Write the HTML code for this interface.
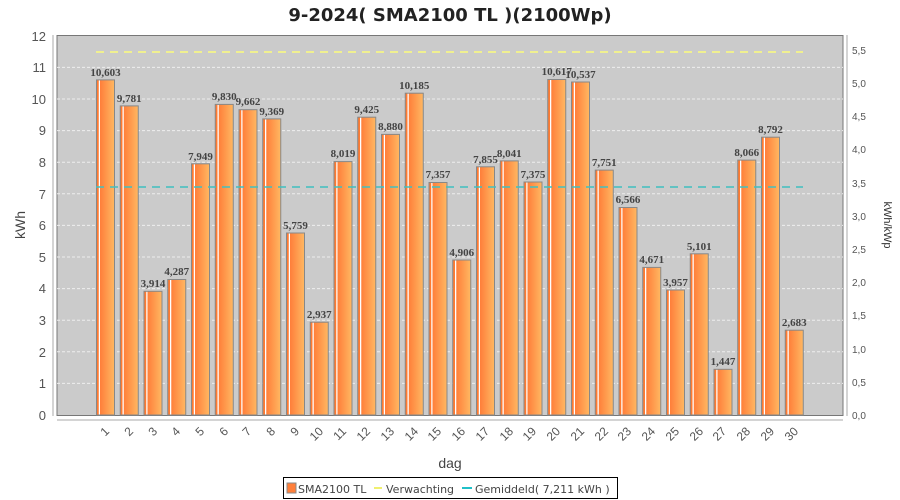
<!DOCTYPE html>
<html><head><meta charset="utf-8"><style>body{margin:0;background:#fff}svg{display:block}</style></head><body>
<svg width="900" height="500" xmlns="http://www.w3.org/2000/svg" font-family="Liberation Sans, sans-serif">
<defs>
<linearGradient id="g" x1="0" x2="1" y1="0" y2="0">
<stop offset="0" stop-color="#ff7a30"/><stop offset="0.12" stop-color="#ff7a30"/><stop offset="0.13" stop-color="#fff"/><stop offset="0.19" stop-color="#fff"/><stop offset="0.2" stop-color="#ff7f3a"/><stop offset="1" stop-color="#ffb862"/>
</linearGradient>
</defs>
<text x="450" y="21" text-anchor="middle" font-family="DejaVu Sans, sans-serif" font-size="18" font-weight="bold" fill="#222">9-2024( SMA2100 TL )(2100Wp)</text>
<rect x="57" y="35.5" width="786" height="380" fill="#cbcbcb" stroke="#777"/>
<g stroke="#eee" stroke-dasharray="3,2" stroke-width="1">
<line x1="57" x2="843" y1="383.4" y2="383.4"/><line x1="57" x2="843" y1="351.8" y2="351.8"/><line x1="57" x2="843" y1="320.2" y2="320.2"/><line x1="57" x2="843" y1="288.6" y2="288.6"/><line x1="57" x2="843" y1="257" y2="257"/><line x1="57" x2="843" y1="225.4" y2="225.4"/><line x1="57" x2="843" y1="193.8" y2="193.8"/><line x1="57" x2="843" y1="162.2" y2="162.2"/><line x1="57" x2="843" y1="130.6" y2="130.6"/><line x1="57" x2="843" y1="99" y2="99"/><line x1="57" x2="843" y1="67.4" y2="67.4"/>
</g>
<g fill="#555" font-size="13" text-anchor="end">
<text x="46" y="420">0</text><text x="46" y="388">1</text><text x="46" y="357">2</text><text x="46" y="325">3</text><text x="46" y="293">4</text><text x="46" y="262">5</text><text x="46" y="230">6</text><text x="46" y="199">7</text><text x="46" y="167">8</text><text x="46" y="135">9</text><text x="46" y="104">10</text><text x="46" y="72">11</text><text x="46" y="41">12</text>
</g>
<line x1="53" x2="53" y1="35" y2="416" stroke="#aaa"/>
<text transform="translate(25,225) rotate(-90)" text-anchor="middle" font-size="14" fill="#444">kWh</text>
<line x1="847" x2="847" y1="35" y2="416" stroke="#aaa"/>
<g fill="#555" font-size="10">
<text x="852" y="419">0,0</text><text x="852" y="386">0,5</text><text x="852" y="353">1,0</text><text x="852" y="319">1,5</text><text x="852" y="286">2,0</text><text x="852" y="253">2,5</text><text x="852" y="220">3,0</text><text x="852" y="187">3,5</text><text x="852" y="153">4,0</text><text x="852" y="120">4,5</text><text x="852" y="87">5,0</text><text x="852" y="54">5,5</text>
</g>
<text transform="translate(884,225) rotate(90)" text-anchor="middle" font-size="11" fill="#333">kWh/kWp</text>
<line x1="57" x2="843" y1="420" y2="420" stroke="#aaa"/>
<g fill="url(#g)" stroke="#888">
<rect x="96.5" y="79.9" width="18" height="335.1"/><rect x="120.25" y="105.9" width="18" height="309.1"/><rect x="144" y="291.3" width="18" height="123.7"/><rect x="167.75" y="279.5" width="18" height="135.5"/><rect x="191.5" y="163.8" width="18" height="251.2"/><rect x="215.25" y="104.4" width="18" height="310.6"/><rect x="239" y="109.7" width="18" height="305.3"/><rect x="262.75" y="118.9" width="18" height="296.1"/><rect x="286.5" y="233" width="18" height="182"/><rect x="310.25" y="322.2" width="18" height="92.8"/><rect x="334" y="161.6" width="18" height="253.4"/><rect x="357.75" y="117.2" width="18" height="297.8"/><rect x="381.5" y="134.4" width="18" height="280.6"/><rect x="405.25" y="93.2" width="18" height="321.8"/><rect x="429" y="182.5" width="18" height="232.5"/><rect x="452.75" y="260" width="18" height="155"/><rect x="476.5" y="166.8" width="18" height="248.2"/><rect x="500.25" y="160.9" width="18" height="254.1"/><rect x="524" y="182" width="18" height="233"/><rect x="547.75" y="79.5" width="18" height="335.5"/><rect x="571.5" y="82" width="18" height="333"/><rect x="595.25" y="170.1" width="18" height="244.9"/><rect x="619" y="207.5" width="18" height="207.5"/><rect x="642.75" y="267.4" width="18" height="147.6"/><rect x="666.5" y="290" width="18" height="125"/><rect x="690.25" y="253.8" width="18" height="161.2"/><rect x="714" y="369.3" width="18" height="45.7"/><rect x="737.75" y="160.1" width="18" height="254.9"/><rect x="761.5" y="137.2" width="18" height="277.8"/><rect x="785.25" y="330.2" width="18" height="84.8"/>
</g>
<line x1="96" x2="803" y1="52" y2="52" stroke="#f0f090" stroke-width="2" stroke-dasharray="8,6"/>
<line x1="96" x2="803" y1="187" y2="187" stroke="#40c0c0" stroke-width="1.5" stroke-dasharray="8,6"/>
<g font-family="Liberation Serif, serif" font-weight="bold" font-size="11" fill="#444" text-anchor="middle">
<text x="105.5" y="76">10,603</text><text x="129.25" y="102">9,781</text><text x="153" y="287">3,914</text><text x="176.75" y="275">4,287</text><text x="200.5" y="160">7,949</text><text x="224.25" y="100">9,830</text><text x="248" y="105">9,662</text><text x="271.75" y="115">9,369</text><text x="295.5" y="229">5,759</text><text x="319.25" y="318">2,937</text><text x="343" y="157">8,019</text><text x="366.75" y="113">9,425</text><text x="390.5" y="130">8,880</text><text x="414.25" y="89">10,185</text><text x="438" y="178">7,357</text><text x="461.75" y="256">4,906</text><text x="485.5" y="163">7,855</text><text x="509.25" y="157">8,041</text><text x="533" y="178">7,375</text><text x="556.75" y="75">10,617</text><text x="580.5" y="78">10,537</text><text x="604.25" y="166">7,751</text><text x="628" y="203">6,566</text><text x="651.75" y="263">4,671</text><text x="675.5" y="286">3,957</text><text x="699.25" y="250">5,101</text><text x="723" y="365">1,447</text><text x="746.75" y="156">8,066</text><text x="770.5" y="133">8,792</text><text x="794.25" y="326">2,683</text>
</g>
<g fill="#555" font-size="12" text-anchor="end">
<text transform="translate(110,432) rotate(-45)">1</text><text transform="translate(134,432) rotate(-45)">2</text><text transform="translate(158,432) rotate(-45)">3</text><text transform="translate(181,432) rotate(-45)">4</text><text transform="translate(205,432) rotate(-45)">5</text><text transform="translate(229,432) rotate(-45)">6</text><text transform="translate(252,432) rotate(-45)">7</text><text transform="translate(276,432) rotate(-45)">8</text><text transform="translate(300,432) rotate(-45)">9</text><text transform="translate(324,432) rotate(-45)">10</text><text transform="translate(347,432) rotate(-45)">11</text><text transform="translate(371,432) rotate(-45)">12</text><text transform="translate(395,432) rotate(-45)">13</text><text transform="translate(419,432) rotate(-45)">14</text><text transform="translate(442,432) rotate(-45)">15</text><text transform="translate(466,432) rotate(-45)">16</text><text transform="translate(490,432) rotate(-45)">17</text><text transform="translate(514,432) rotate(-45)">18</text><text transform="translate(537,432) rotate(-45)">19</text><text transform="translate(561,432) rotate(-45)">20</text><text transform="translate(585,432) rotate(-45)">21</text><text transform="translate(609,432) rotate(-45)">22</text><text transform="translate(632,432) rotate(-45)">23</text><text transform="translate(656,432) rotate(-45)">24</text><text transform="translate(680,432) rotate(-45)">25</text><text transform="translate(704,432) rotate(-45)">26</text><text transform="translate(727,432) rotate(-45)">27</text><text transform="translate(751,432) rotate(-45)">28</text><text transform="translate(775,432) rotate(-45)">29</text><text transform="translate(799,432) rotate(-45)">30</text>
</g>
<text x="450" y="468" text-anchor="middle" font-size="14" fill="#444">dag</text>
<rect x="283.5" y="477.5" width="334" height="21" fill="#fff" stroke="#000"/>
<rect x="287" y="483" width="9" height="10" fill="#ff7f3a" stroke="#888"/>
<g font-family="DejaVu Sans, sans-serif" font-size="11" fill="#444">
<text x="298" y="493">SMA2100 TL</text>
<text x="386" y="493">Verwachting</text>
<text x="475" y="493">Gemiddeld( 7,211 kWh )</text>
</g>
<line x1="374" x2="382" y1="488" y2="488" stroke="#f0f070" stroke-width="2"/>
<line x1="462" x2="472" y1="488" y2="488" stroke="#20c0c8" stroke-width="2"/>
</svg>
</body></html>
